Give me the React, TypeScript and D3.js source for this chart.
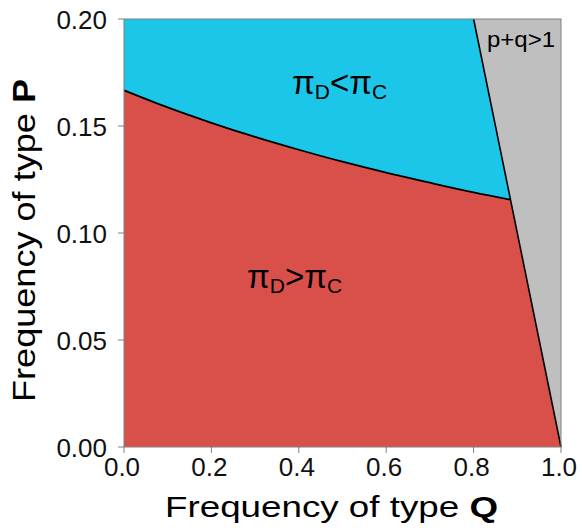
import React from "react";
import * as d3 from "d3";

// Boundary between regions (q, p)
const boundaryQ = [0, 0.1, 0.2, 0.3, 0.4, 0.5, 0.6, 0.7, 0.8, 0.884];
const boundaryP = [0.1667, 0.1587, 0.1515, 0.1449, 0.1389, 0.1333, 0.1282, 0.1235, 0.119, 0.1156];
// p + q = 1 line
const limitQ = [0.8, 1.0];
const limitP = [0.2, 0.0];

const xTicks = [0, 0.2, 0.4, 0.6, 0.8, 1.0];
const yTicks = [0, 0.05, 0.1, 0.15, 0.2];

const W = 582;
const H = 528;
const M = { left: 124, right: 561, top: 19, bottom: 447 };

export default function App() {
  const x = d3.scaleLinear().domain([0, 1]).range([M.left, M.right]);
  const y = d3.scaleLinear().domain([0, 0.2]).range([M.bottom, M.top]);

  const curve: [number, number][] = boundaryQ.map((q, i) => [q, boundaryP[i]]);
  const line = d3
    .line<[number, number]>()
    .x((d) => x(d[0]))
    .y((d) => y(d[1]))
    .curve(d3.curveMonotoneX);
  const poly = d3
    .line<[number, number]>()
    .x((d) => x(d[0]))
    .y((d) => y(d[1]));

  const last = curve[curve.length - 1];
  const curvePath = line(curve) as string;
  const revCurvePath = line([...curve].reverse()) as string;

  const redPath =
    `M${x(0)},${y(0)}L${x(0)},${y(curve[0][1])}` +
    curvePath.replace(/^M/, "L") +
    `L${x(limitQ[1])},${y(limitP[1])}Z`;
  const bluePath =
    `M${x(0)},${y(0.2)}L${x(limitQ[0])},${y(limitP[0])}L${x(last[0])},${y(last[1])}` +
    revCurvePath.replace(/^M/, "L") +
    "Z";
  const grayPath = poly([
    [limitQ[0], limitP[0]],
    [1, 0.2],
    [limitQ[1], limitP[1]],
  ]) + "Z";

  const font = "'Liberation Sans', Arial, sans-serif";
  const fmtY = d3.format(".2f");
  const fmtX = d3.format(".1f");

  return (
    <svg
      width={W}
      height={H}
      style={{ position: "absolute", left: 0, top: 0, background: "#fff" }}
      fontFamily={font}
    >
      <path d={redPath} fill="#D9504B" />
      <path d={bluePath} fill="#1BC6E9" />
      <path d={grayPath} fill="#BFBFBF" />
      <path d={curvePath} fill="none" stroke="#000" strokeWidth={1.8} />
      <path
        d={poly([[limitQ[0], limitP[0]], [limitQ[1], limitP[1]]]) as string}
        fill="none"
        stroke="#000"
        strokeWidth={1.6}
      />
      {/* frame */}
      <rect
        x={M.left}
        y={M.top}
        width={M.right - M.left}
        height={M.bottom - M.top}
        fill="none"
        stroke="#808080"
        strokeWidth={1}
      />
      {/* y axis */}
      {yTicks.map((t) => (
        <g key={"y" + t}>
          <line x1={M.left - 6} x2={M.left} y1={y(t)} y2={y(t)} stroke="#808080" />
          <text x={107} y={y(t) + 10} fontSize={26} textAnchor="end" fill="#111">
            {fmtY(t)}
          </text>
        </g>
      ))}
      {/* x axis */}
      {xTicks.map((t) => (
        <g key={"x" + t}>
          <line x1={x(t)} x2={x(t)} y1={M.bottom} y2={M.bottom + 6} stroke="#808080" />
          <text x={x(t) - 2} y={476} fontSize={26} textAnchor="middle" fill="#111">
            {fmtX(t)}
          </text>
        </g>
      ))}
      {/* axis titles */}
      <text
        x={165}
        y={517}
        fontSize={29}
        textLength={333}
        lengthAdjust="spacingAndGlyphs"
        fill="#000"
      >
        Frequency of type <tspan fontWeight="bold">Q</tspan>
      </text>
      <text
        transform={`translate(35,402) rotate(-90)`}
        fontSize={31}
        textLength={323}
        lengthAdjust="spacingAndGlyphs"
        fill="#000"
      >
        Frequency of type <tspan fontWeight="bold">P</tspan>
      </text>
      {/* region labels */}
      <text x={292} y={94} fontSize={33} fill="#000">
        π<tspan fontSize={21} dy={5}>D</tspan>
        <tspan dy={-5}>{"<"}</tspan>π<tspan fontSize={21} dy={5}>C</tspan>
      </text>
      <text x={247} y={288} fontSize={33} fill="#000">
        π<tspan fontSize={21} dy={5}>D</tspan>
        <tspan dy={-5}>{">"}</tspan>π<tspan fontSize={21} dy={5}>C</tspan>
      </text>
      <text x={487} y={47} fontSize={22} textLength={68} lengthAdjust="spacingAndGlyphs" fill="#000">
        p+q&gt;1
      </text>
    </svg>
  );
}
